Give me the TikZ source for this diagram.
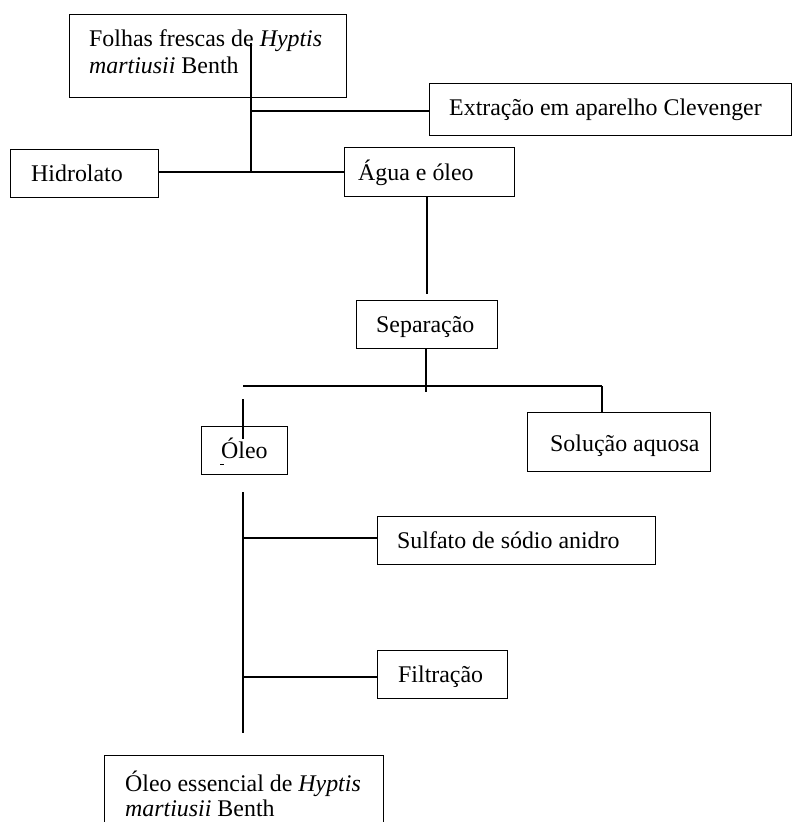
\documentclass[tikz,border=0pt]{standalone}
\usepackage{fontspec}
\setmainfont{Liberation Serif}
\begin{document}
\begin{tikzpicture}[x=1pt,y=-1pt,
  boxnode/.style={draw=black, line width=1.1pt, inner sep=0pt, anchor=north west},
  txt/.style={inner sep=0pt, anchor=base west, font=\fontsize{23.9}{27}\selectfont},
  conn/.style={draw=black, line width=1.1pt}]
\useasboundingbox (0,0) rectangle (792,822);
\clip (0,0) rectangle (792,822);
\fill[white] (0,0) rectangle (792,822);
% boxes
\node[boxnode, minimum width=277pt, minimum height=83pt] (folhas) at (69,14) {};
\node[boxnode, minimum width=362pt, minimum height=52pt] (extr) at (429,83) {};
\node[boxnode, minimum width=148pt, minimum height=48pt] (hidro) at (10,149) {};
\node[boxnode, minimum width=170pt, minimum height=49pt] (agua) at (344,147) {};
\node[boxnode, minimum width=141pt, minimum height=48pt] (sep) at (356,300) {};
\node[boxnode, minimum width=86pt, minimum height=48pt] (oleo) at (201,426) {};
\node[boxnode, minimum width=183pt, minimum height=59pt] (sol) at (527,412) {};
\node[boxnode, minimum width=278pt, minimum height=48pt] (sulf) at (377,516) {};
\node[boxnode, minimum width=130pt, minimum height=48pt] (filt) at (377,650) {};
\node[boxnode, minimum width=279pt, minimum height=90pt] (final) at (104,755) {};
% texts
\node[txt] (t1a) at (89,46.7) {Folhas frescas de \textit{Hyptis}};
\node[txt] (t1b) at (89,73.5) {\textit{martiusii} Benth};
\node[txt] (t2) at (449,115) {Extração em aparelho Clevenger};
\node[txt] (t3) at (31,181.5) {Hidrolato};
\node[txt] (t4) at (358,180) {Água e óleo};
\node[txt] (t5) at (376,332) {Separação};
\node[txt] (t6) at (221,458) {Óleo};
\node[txt] (t7) at (550,451) {Solução aquosa};
\node[txt] (t8) at (397,548) {Sulfato de sódio anidro};
\node[txt] (t9) at (398,682) {Filtração};
\node[txt] (t10a) at (125,791) {Óleo essencial de \textit{Hyptis}};
\node[txt] (t10b) at (125,816.5) {\textit{martiusii} Benth};
% junction coordinates
\coordinate (j1top) at (251,43);
\coordinate (j1mid) at (251,111);
\coordinate (j1bot) at (251,172);
\coordinate (sepA) at (427,294);
\coordinate (sepB) at (426,392);
\coordinate (hL) at (243,386);
\coordinate (hR) at (602,386);
\coordinate (oTop) at (243,399);
\coordinate (oIn) at (243,439);
\coordinate (vTop) at (243,492);
\coordinate (vS) at (243,538);
\coordinate (vF) at (243,677);
\coordinate (vBot) at (243,733);
\coordinate (dashA) at (220,464);
\coordinate (dashB) at (224,464);
% connectors
\draw[conn] (j1top) -- (j1bot);
\draw[conn] (j1mid) -- (extr.west |- j1mid);
\draw[conn] (hidro.east |- j1bot) -- (agua.west |- j1bot);
\draw[conn] (agua.south -| sepA) -- (sepA);
\draw[conn] (sep.south -| sepB) -- (sepB);
\draw[conn] (hL) -- (hR);
\draw[conn] (hR) -- (sol.north -| hR);
\draw[conn] (oTop) -- (oIn);
\draw[line width=0.6pt] (dashA) -- (dashB);
\draw[conn] (vTop) -- (vBot);
\draw[conn] (vS) -- (sulf.west |- vS);
\draw[conn] (vF) -- (filt.west |- vF);
\end{tikzpicture}
\end{document}
